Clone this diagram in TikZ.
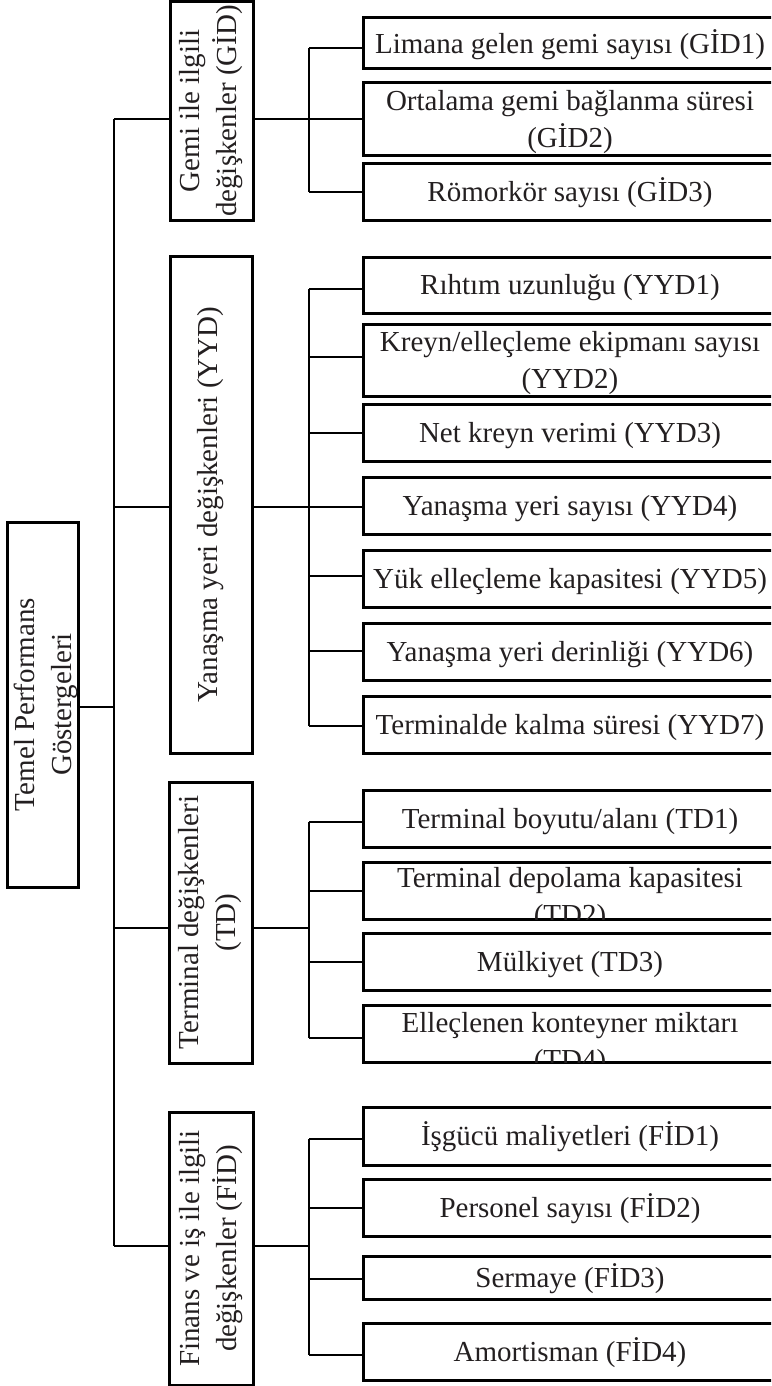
\documentclass[tikz,border=0pt]{standalone}
\usepackage{fontspec}
\setmainfont{Liberation Serif}
\definecolor{ink}{RGB}{35,31,32}
\begin{document}
\begin{tikzpicture}[x=1pt,y=-1pt,
  txt/.style={font=\fontsize{29pt}{37pt}\selectfont, text=ink},
  frame/.style={draw=black, line width=3pt, inner sep=0pt},
  leaf/.style={frame, txt, minimum width=414pt, text height=19.5pt, text depth=0pt},
  leafempty/.style={frame, minimum width=414pt},
  leaftext/.style={txt, align=center, inner sep=0pt, anchor=north},
  group/.style={frame, txt, rotate=90, align=center},
  grouptext/.style={txt, rotate=90, align=center, inner sep=0pt},
  wire/.style={line width=2.5pt},
]
\useasboundingbox (0,0) rectangle (771,1386);
\clip (0,0) rectangle (771,1386);

% bus lines
\coordinate (trunk) at (114,0);
\coordinate (bus) at (309,0);

% root and the four groups (rotated boxes)
\node[group, minimum width=365pt, minimum height=71pt] (root) at (42.5,704.5) {};
\node[grouptext] (root-text) at ([xshift=3.5pt]root.center) {Temel Performans\\Göstergeleri};
\node[group, minimum width=218pt, minimum height=83pt] (gid) at (211.5,111) {Gemi ile ilgili\\değişkenler (GİD)};
\node[group, minimum width=497pt, minimum height=82pt] (yyd) at (211,504.5) {Yanaşma yeri değişkenleri (YYD)};
\node[group, minimum width=281pt, minimum height=83pt] (td) at (210.5,922.5) {Terminal değişkenleri\\(TD)};
\node[group, minimum width=273pt, minimum height=84pt] (fid) at (211,1248.5) {Finans ve iş ile ilgili\\değişkenler (FİD)};

% ship variables
\node[leaf, minimum height=51pt] (gid1) at (570,43.5) {Limana gelen gemi sayısı (GİD1)};
\node[leafempty, minimum height=72pt] (gid2) at (570,119) {};
\node[leaftext] (gid2-text) at ([yshift=-8.5pt]gid2.north) {Ortalama gemi bağlanma süresi\\(GİD2)};
\node[leaf, minimum height=57pt] (gid3) at (570,191.5) {Römorkör sayısı (GİD3)};

% berth variables
\node[leaf, minimum height=56pt] (yyd1) at (570,285) {Rıhtım uzunluğu (YYD1)};
\node[leafempty, minimum height=72pt] (yyd2) at (570,360) {};
\node[leaftext] (yyd2-text) at ([yshift=-8.5pt]yyd2.north) {Kreyn/elleçleme ekipmanı sayısı\\(YYD2)};
\node[leaf, minimum height=57pt] (yyd3) at (570,432.5) {Net kreyn verimi (YYD3)};
\node[leaf, minimum height=57pt] (yyd4) at (570,505.5) {Yanaşma yeri sayısı (YYD4)};
\node[leaf, minimum height=57pt] (yyd5) at (570,578.5) {Yük elleçleme kapasitesi (YYD5)};
\node[leaf, minimum height=57pt] (yyd6) at (570,651.5) {Yanaşma yeri derinliği (YYD6)};
\node[leaf, minimum height=57pt] (yyd7) at (570,724.5) {Terminalde kalma süresi (YYD7)};

% terminal variables
\node[leaf, minimum height=57pt] (td1) at (570,818.5) {Terminal boyutu/alanı (TD1)};
\node[leafempty, minimum height=57pt] (td2) at (570,890.5) {};
\begin{scope}
  \clip ([shift={(1.5pt,1.5pt)}]td2.south west) rectangle ([shift={(-1.5pt,-1.5pt)}]td2.north east);
  \node[leaftext] (td2-text) at ([yshift=-6.5pt]td2.north) {Terminal depolama kapasitesi\\(TD2)};
\end{scope}
\node[leaf, minimum height=57pt] (td3) at (570,961.5) {Mülkiyet (TD3)};
\node[leafempty, minimum height=57pt] (td4) at (570,1033.5) {};
\begin{scope}
  \clip ([shift={(1.5pt,1.5pt)}]td4.south west) rectangle ([shift={(-1.5pt,-1.5pt)}]td4.north east);
  \node[leaftext] (td4-text) at ([yshift=-9pt]td4.north) {Elleçlenen konteyner miktarı\\(TD4)};
\end{scope}

% finance and business variables
\node[leaf, minimum height=58pt] (fid1) at (570,1136) {İşgücü maliyetleri (FİD1)};
\node[leaf, minimum height=57pt] (fid2) at (570,1207.5) {Personel sayısı (FİD2)};
\node[leaf, minimum height=43pt] (fid3) at (570,1277.5) {Sermaye (FİD3)};
\node[leaf, minimum height=57pt] (fid4) at (570,1351.5) {Amortisman (FİD4)};

% tap points on the group boxes
\coordinate (root-tap) at ([yshift=-2.5pt]root.center);
\coordinate (gid-tap) at ([yshift=-8pt]gid.center);
\coordinate (yyd-tap) at ([yshift=-2.5pt]yyd.center);
\coordinate (td-tap) at ([yshift=-5.5pt]td.center);
\coordinate (fid-tap) at ([yshift=2.5pt]fid.center);

% root to trunk, trunk to groups
\draw[wire] (root.south |- root-tap) -- (trunk |- root-tap);
\draw[wire] (trunk |- gid-tap) -- (trunk |- fid-tap);
\foreach \g in {gid,yyd,td,fid}{
  \draw[wire] (trunk |- \g-tap) -- (\g.north |- \g-tap);
  \draw[wire] (\g.south |- \g-tap) -- (bus |- \g-tap);
}

% tap points on the leaf boxes
\foreach \n/\d in {gid1/-4.5, gid2/0, gid3/-0.5,
                   yyd1/-4, yyd2/3, yyd3/-0.5, yyd4/-1.5, yyd5/2.5, yyd6/0.5, yyd7/-1.5,
                   td1/-3.5, td2/-0.5, td3/-0.5, td4/-4.5,
                   fid1/-3, fid2/-0.5, fid3/-1.5, fid4/-3.5}{
  \coordinate (\n-tap) at ([yshift=\d pt]\n.west);
  \draw[wire] (bus |- \n-tap) -- (\n-tap);
}

% vertical buses of each group
\draw[wire] (bus |- gid1-tap) -- (bus |- gid3-tap);
\draw[wire] (bus |- yyd1-tap) -- (bus |- yyd7-tap);
\draw[wire] (bus |- td1-tap) -- (bus |- td4-tap);
\draw[wire] (bus |- fid1-tap) -- (bus |- fid4-tap);
\end{tikzpicture}
\end{document}
